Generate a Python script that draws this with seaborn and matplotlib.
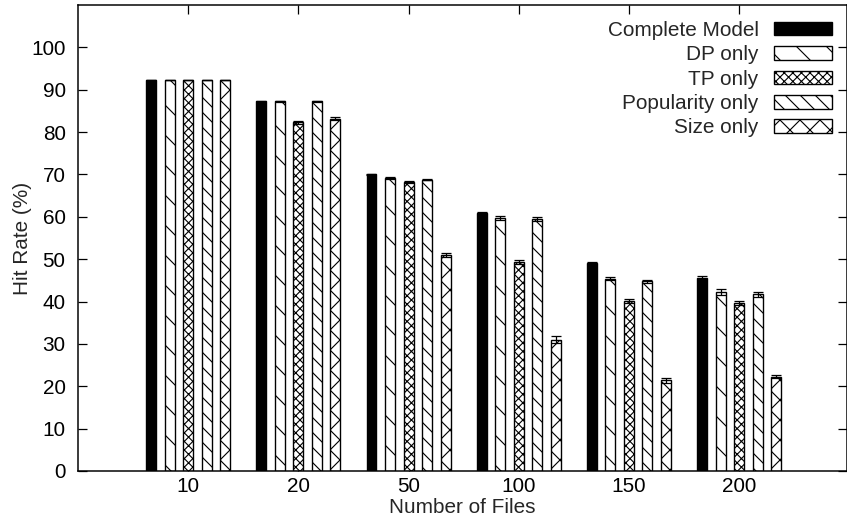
import matplotlib
matplotlib.use('Agg')
import matplotlib.pyplot as plt
import seaborn as sns
import numpy as np
import pandas as pd

# data
files = ["10", "20", "50", "100", "150", "200"]
series = ["Complete Model", "DP only", "TP only", "Popularity only", "Size only"]
complete_model = [92.3, 87.3, 70.0, 61.0, 49.0, 45.5]
dp_only = [92.3, 87.3, 69.2, 59.8, 45.4, 42.3]
tp_only = [92.3, 82.3, 68.2, 49.3, 40.1, 39.6]
popularity_only = [92.3, 87.3, 68.8, 59.5, 44.8, 41.7]
size_only = [92.3, 83.2, 51.0, 31.0, 21.4, 22.3]
complete_err = [0.1, 0.1, 0.1, 0.2, 0.3, 0.5]
dp_err = [0.1, 0.1, 0.2, 0.5, 0.4, 0.7]
tp_err = [0.1, 0.3, 0.2, 0.5, 0.5, 0.5]
popularity_err = [0.1, 0.1, 0.2, 0.4, 0.4, 0.6]
size_err = [0.1, 0.3, 0.5, 0.8, 0.6, 0.3]

values = [complete_model, dp_only, tp_only, popularity_only, size_only]
errors = [complete_err, dp_err, tp_err, popularity_err, size_err]
hatches = ["", "\\\\", "xxxxxxx", "\\\\\\\\", "xxx"]
colors = ["black", "white", "white", "white", "white"]

rows = []
for name, vals in zip(series, values):
    for f, v in zip(files, vals):
        rows.append({"files": f, "series": name, "hit": v})
df = pd.DataFrame(rows)

sns.set_style("ticks")
plt.rcParams["font.family"] = ["Liberation Sans", "DejaVu Sans"]
plt.rcParams["hatch.linewidth"] = 0.45
plt.rcParams["axes.linewidth"] = 0.6

FS = 8.3
DPI = 180
fig = plt.figure(figsize=(847 / DPI, 523 / DPI), dpi=DPI)
ax = fig.add_axes([78 / 847, 52 / 523, 769 / 847, 466 / 523])

sns.barplot(data=df, x="files", y="hit", hue="series", order=files,
            hue_order=series, palette=colors, width=0.84, gap=0.46,
            errorbar=None, legend=False, ax=ax)

bars = list(ax.containers)
for cont, h, vals, errs in zip(bars, hatches, values, errors):
    xs = []
    for p in cont.patches:
        p.set_hatch(h)
        p.set_edgecolor("black")
        p.set_linewidth(0.55)
        xs.append(p.get_x() + p.get_width() / 2)
    ax.errorbar(xs, vals, yerr=errs, fmt="none", ecolor="black",
                elinewidth=0.5, capsize=2.0, capthick=0.5)

ax.set_xlim(-1.0, 5.98)
ax.set_ylim(0, 110)
ax.set_yticks(np.arange(0, 101, 10))
ax.tick_params(direction="in", top=True, right=True, length=3.6, width=0.5,
               labelsize=FS, colors="black")
ax.tick_params(axis="y", pad=5)
ax.tick_params(axis="x", pad=2.2)
ax.set_xlabel("Number of Files", fontsize=FS, labelpad=1)
ax.set_ylabel("Hit Rate (%)", fontsize=FS, labelpad=-0.5)
for s in ax.spines.values():
    s.set_color("black")

handles = [c.patches[0] for c in bars]
ax.legend(handles, series, loc="upper right", bbox_to_anchor=(0.98, 0.966),
          frameon=False, markerfirst=False, fontsize=FS,
          handlelength=2.8, handleheight=0.63, handletextpad=0.72,
          labelspacing=0.26, borderaxespad=0, borderpad=0)

fig.savefig("out.png", dpi=DPI)
